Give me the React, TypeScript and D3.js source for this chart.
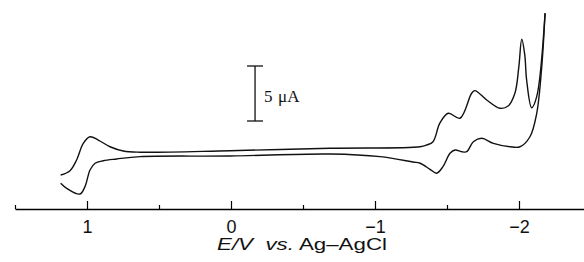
import React, { useEffect, useRef } from "react";
import * as d3 from "d3";

// forward scan (upper trace): potential E (V), current I (uA)
const fwdE = [1.183, 1.118, 1.072, 1.026, 0.979, 0.922, 0.84, 0.748, 0.632, 0.007, -0.688, -1.313, -1.359, -1.403, -1.451, -1.509, -1.59, -1.671, -1.694, -1.776, -1.868, -1.924, -1.972, -1.999, -2.019, -2.04, -2.053, -2.088, -2.123, -2.181];
const fwdI = [-1.82, -1.43, -0.45, 1.06, 1.66, 1.36, 0.75, 0.36, 0.25, 0.39, 0.61, 0.75, 0.91, 1.21, 2.91, 3.79, 3.34, 5.61, 5.85, 5.0, 4.25, 4.45, 5.64, 8.03, 10.52, 9.1, 6.82, 4.3, 5.3, 12.88];

// reverse scan (lower trace)
const revE = [-2.181, -2.158, -2.123, -2.076, -2.007, -1.938, -1.822, -1.741, -1.683, -1.637, -1.602, -1.556, -1.521, -1.472, -1.428, -1.382, -1.313, -1.264, -1.035, -0.688, 0.007, 0.632, 0.794, 0.887, 0.944, 0.979, 1.014, 1.049, 1.141, 1.183];
const revI = [12.88, 8.03, 3.79, 1.66, 0.75, 0.75, 1.06, 1.52, 1.21, 0.3, 0.3, 0.45, 0.15, -1.06, -1.66, -1.3, -0.75, -0.64, -0.15, 0.09, -0.09, -0.15, -0.36, -0.52, -0.75, -1.36, -2.88, -3.55, -3.03, -2.57];

const majorTicks = [1, 0, -1, -2];
const minorTicks = [1.5, 0.5, -0.5, -1.5];

export default function App() {
  const ref = useRef<SVGSVGElement>(null);

  useEffect(() => {
    document.body.style.margin = "0";
    const svg = d3.select(ref.current);
    svg.selectAll("*").remove();

    const x = d3.scaleLinear().domain([1.5, -2.45]).range([15, 583.8]);
    const y = d3.scaleLinear().domain([-4.91, 14.09]).range([209, 0]);

    const line = d3.line<[number, number]>()
      .x(d => x(d[0]))
      .y(d => y(d[1]))
      .curve(d3.curveCatmullRom.alpha(0.5));

    const fwd = fwdE.map((e, i) => [e, fwdI[i]] as [number, number]);
    const rev = revE.map((e, i) => [e, revI[i]] as [number, number]);

    [fwd, rev].forEach(d => {
      svg.append("path")
        .datum(d)
        .attr("fill", "none")
        .attr("stroke", "#111")
        .attr("stroke-width", 1.4)
        .attr("stroke-linejoin", "round")
        .attr("d", line);
    });

    // axis
    const g = svg.append("g").attr("transform", "translate(0," + y(-4.91) + ")");
    g.call(d3.axisBottom(x).tickValues(majorTicks).tickSize(-8).tickPadding(11)
      .tickSizeOuter(0).tickFormat(d3.format("d")))
      .call(a => a.select(".domain").attr("stroke-width", 1.5))
      .call(a => a.selectAll("text")
        .attr("font-family", "Liberation Sans, Arial, sans-serif")
        .attr("font-size", 18)
        .attr("fill", "#111"));
    g.append("g")
      .call(d3.axisBottom(x).tickValues(minorTicks).tickSize(-4).tickFormat(() => ""))
      .call(a => a.select(".domain").remove());
    g.selectAll("line").attr("stroke-width", 1.2);

    // axis title
    const t = svg.append("text")
      .attr("x", 302)
      .attr("y", 250)
      .attr("text-anchor", "middle")
      .attr("font-family", "Liberation Sans, Arial, sans-serif")
      .attr("font-size", 17)
      .attr("fill", "#111")
      .attr("textLength", 170)
      .attr("lengthAdjust", "spacingAndGlyphs");
    t.append("tspan").attr("font-style", "italic").text("E/V");
    t.append("tspan").text("\u00a0 ");
    t.append("tspan").attr("font-style", "italic").text("vs.");
    t.append("tspan").text(" Ag–AgCl");

    // 5 uA scale bar
    const barE = -0.167, barTop = 8.09, barLen = 5;
    const bx = x(barE);
    const sb = svg.append("g").attr("stroke", "#111").attr("stroke-width", 1.3);
    sb.append("line").attr("x1", bx).attr("x2", bx).attr("y1", y(barTop)).attr("y2", y(barTop - barLen));
    sb.append("line").attr("x1", bx - 8).attr("x2", bx + 8).attr("y1", y(barTop)).attr("y2", y(barTop));
    sb.append("line").attr("x1", bx - 8).attr("x2", bx + 8).attr("y1", y(barTop - barLen)).attr("y2", y(barTop - barLen));
    const lab = svg.append("g")
      .attr("font-family", "Liberation Serif, Times New Roman, serif")
      .attr("font-size", 17)
      .attr("fill", "#111");
    lab.append("text").attr("x", bx + 9).attr("y", 102).text("5");
    lab.append("text").attr("x", bx + 23).attr("y", 102).text("μA");
  }, []);

  return <svg ref={ref} width={584} height={262} style={{ display: "block", background: "#fff" }} />;
}
